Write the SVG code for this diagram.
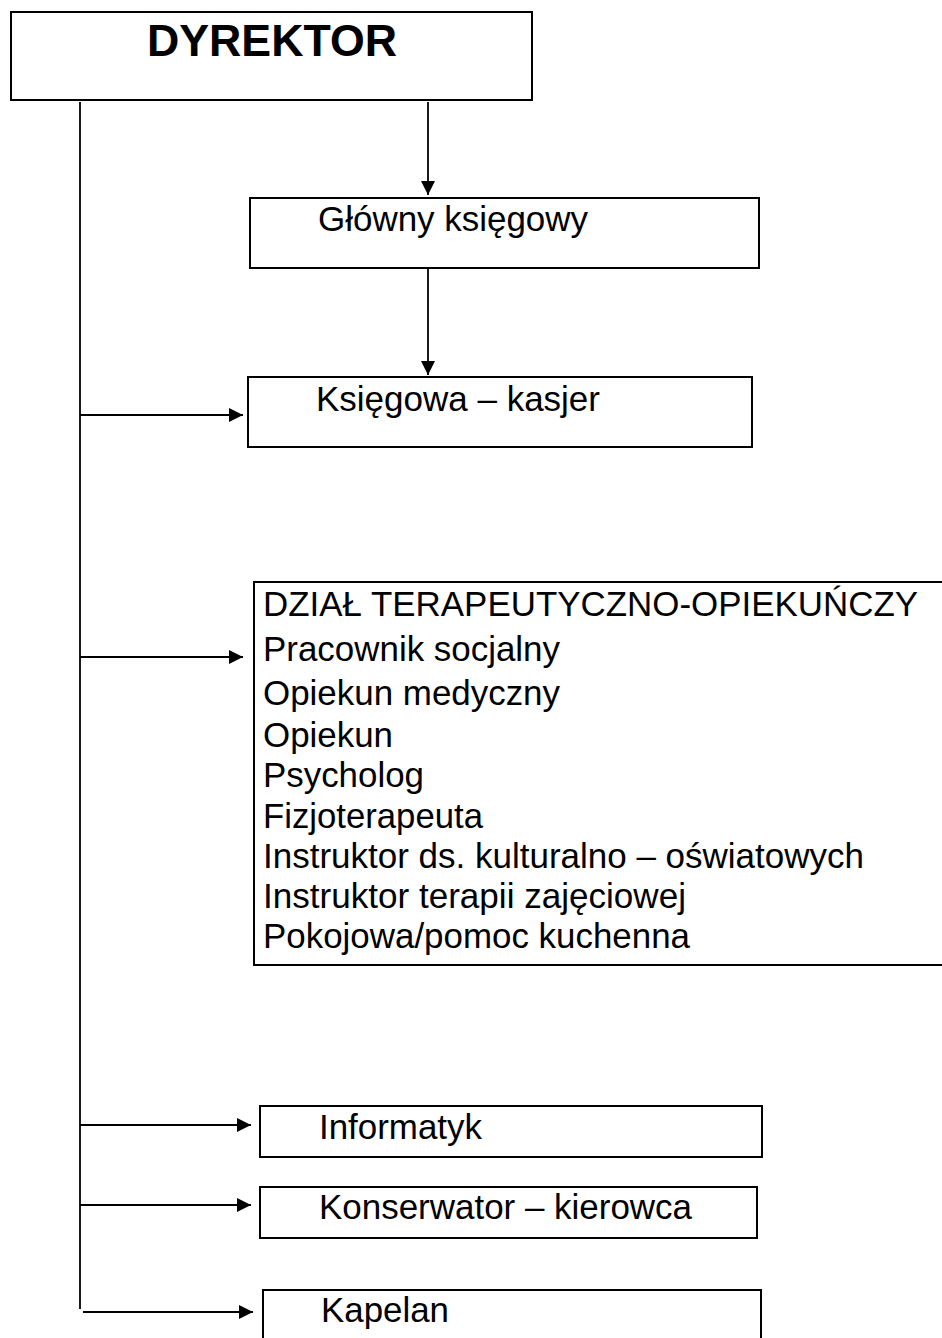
<svg xmlns="http://www.w3.org/2000/svg" width="942" height="1338" viewBox="0 0 942 1338">
<defs>
<style>
.box{fill:#fff;stroke:#000;stroke-width:2}
.ln{stroke:#000;stroke-width:1.8;fill:none}
.t{font-family:"Liberation Sans",Arial,sans-serif;font-size:35px;fill:#000}
.b{font-family:"Liberation Sans",Arial,sans-serif;font-size:45px;font-weight:bold;fill:#000}
</style>
<marker id="ah" viewBox="0 0 14 14" refX="14" refY="7" markerWidth="14" markerHeight="14" markerUnits="userSpaceOnUse" orient="auto">
<path d="M0,0 L14,7 L0,14 Z" fill="#000"/>
</marker>
</defs>
<rect width="942" height="1338" fill="#fff"/>
<g id="connectors">
<line class="ln" x1="80" y1="102" x2="80" y2="1309"/>
<line class="ln" x1="428" y1="102" x2="428" y2="195" marker-end="url(#ah)"/>
<line class="ln" x1="428" y1="269" x2="428" y2="375" marker-end="url(#ah)"/>
<line class="ln" x1="80" y1="415" x2="243" y2="415" marker-end="url(#ah)"/>
<line class="ln" x1="80" y1="657" x2="243" y2="657" marker-end="url(#ah)"/>
<line class="ln" x1="80" y1="1125" x2="251" y2="1125" marker-end="url(#ah)"/>
<line class="ln" x1="80" y1="1205" x2="251" y2="1205" marker-end="url(#ah)"/>
<line class="ln" x1="83" y1="1312" x2="253" y2="1312" marker-end="url(#ah)"/>
</g>
<g id="dyrektor">
<rect class="box" x="11" y="12" width="521" height="88"/>
<text class="b" x="147" y="56" textLength="250" lengthAdjust="spacingAndGlyphs">DYREKTOR</text>
</g>
<g id="glowny">
<rect class="box" x="250" y="198" width="509" height="70"/>
<text class="t" x="318" y="231" textLength="270" lengthAdjust="spacingAndGlyphs">Główny księgowy</text>
</g>
<g id="ksiegowa">
<rect class="box" x="248" y="377" width="504" height="70"/>
<text class="t" x="316" y="411" textLength="284" lengthAdjust="spacingAndGlyphs">Księgowa – kasjer</text>
</g>
<g id="dzial">
<rect class="box" x="254" y="582" width="700" height="383"/>
<text class="t" x="263" y="616" textLength="655" lengthAdjust="spacingAndGlyphs">DZIAŁ TERAPEUTYCZNO-OPIEKUŃCZY</text>
<text class="t" x="263" y="661" textLength="297" lengthAdjust="spacingAndGlyphs">Pracownik socjalny</text>
<text class="t" x="263" y="705" textLength="297" lengthAdjust="spacingAndGlyphs">Opiekun medyczny</text>
<text class="t" x="263" y="747" textLength="130" lengthAdjust="spacingAndGlyphs">Opiekun</text>
<text class="t" x="263" y="787" textLength="161" lengthAdjust="spacingAndGlyphs">Psycholog</text>
<text class="t" x="263" y="828" textLength="220" lengthAdjust="spacingAndGlyphs">Fizjoterapeuta</text>
<text class="t" x="263" y="868" textLength="601" lengthAdjust="spacingAndGlyphs">Instruktor ds. kulturalno – oświatowych</text>
<text class="t" x="263" y="908" textLength="423" lengthAdjust="spacingAndGlyphs">Instruktor terapii zajęciowej</text>
<text class="t" x="263" y="948" textLength="427" lengthAdjust="spacingAndGlyphs">Pokojowa/pomoc kuchenna</text>
</g>
<g id="informatyk">
<rect class="box" x="260" y="1106" width="502" height="51"/>
<text class="t" x="319" y="1139" textLength="163" lengthAdjust="spacingAndGlyphs">Informatyk</text>
</g>
<g id="konserwator">
<rect class="box" x="260" y="1187" width="497" height="51"/>
<text class="t" x="319" y="1219" textLength="373" lengthAdjust="spacingAndGlyphs">Konserwator – kierowca</text>
</g>
<g id="kapelan">
<rect class="box" x="263" y="1290" width="498" height="60"/>
<text class="t" x="321" y="1322" textLength="128" lengthAdjust="spacingAndGlyphs">Kapelan</text>
</g>
</svg>
